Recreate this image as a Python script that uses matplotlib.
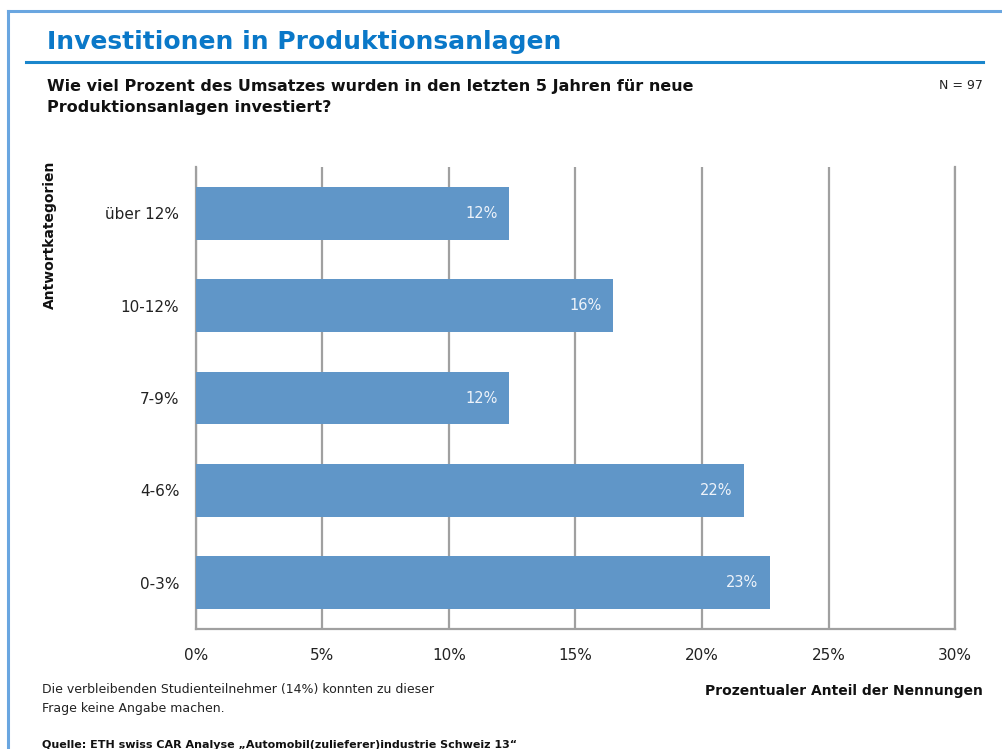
import matplotlib
matplotlib.use("Agg")
import matplotlib.pyplot as plt
from matplotlib.lines import Line2D

# Antworten (N = 97), Anteil der Nennungen in Prozent
categories = ["0-3%", "4-6%", "7-9%", "10-12%", "über 12%"]
shares = [22.68, 21.65, 12.37, 16.49, 12.37]
x_ticks = [0, 5, 10, 15, 20, 25, 30]

BLUE_BAR = "#6096c8"
BLUE_TITLE = "#0a78c8"
GREY = "#a0a0a0"

plt.rcParams["font.family"] = ["DejaVu Sans"]

fig = plt.figure(figsize=(10.02, 7.49), dpi=100)
ax = fig.add_axes([0.1956, 0.1602, 0.7575, 0.6168])

pos = list(range(len(categories)))
bars = ax.barh(pos, shares, height=0.57, color=BLUE_BAR, zorder=3)
for b, v in zip(bars, shares):
    ax.text(b.get_width() - 0.45, b.get_y() + b.get_height() / 2, f"{v:.0f}%",
            ha="right", va="center", color="#eef3fa", fontsize=10.5, zorder=4)

ax.set_xlim(0, 30)
ax.set_ylim(-0.5, 4.5)
ax.set_xticks(x_ticks)
ax.set_xticklabels([f"{t}%" for t in x_ticks])
ax.set_yticks(pos)
ax.set_yticklabels(categories)
ax.tick_params(length=0, labelsize=11, colors="#222222")
ax.tick_params(axis="x", pad=14)
ax.tick_params(axis="y", pad=12)
ax.grid(axis="x", color=GREY, linewidth=1.6, zorder=0)
ax.spines["top"].set_visible(False)
for s in ("left", "right", "bottom"):
    ax.spines[s].set_color(GREY)
    ax.spines[s].set_linewidth(1.6)

# Rahmen und Titellinie
fig.add_artist(Line2D([0.0075, 0.0075], [0, 0.9855], color="#6aa6e0", lw=2.2))
fig.add_artist(Line2D([0.0075, 1.0], [0.9855, 0.9855], color="#6aa6e0", lw=2.2))
fig.add_artist(Line2D([0.026, 0.981], [0.917, 0.917], color="#1a86cc", lw=2.2))

fig.text(0.047, 0.935, "Investitionen in Produktionsanlagen", color=BLUE_TITLE,
         fontsize=18, fontweight="bold", ha="left", va="baseline")
fig.text(0.047, 0.851, "Wie viel Prozent des Umsatzes wurden in den letzten 5 Jahren für neue\n"
         "Produktionsanlagen investiert?", fontsize=11.5, fontweight="bold",
         ha="left", va="baseline", linespacing=1.5, color="#111111")
fig.text(0.981, 0.881, "N = 97", fontsize=9, ha="right", va="baseline", color="#222222")
fig.text(0.050, 0.786, "Antwortkategorien", rotation=90, fontsize=10, fontweight="bold",
         ha="center", va="top", color="#111111")

fig.text(0.981, 0.0715, "Prozentualer Anteil der Nennungen", fontsize=10, fontweight="bold",
         ha="right", va="baseline", color="#111111")
fig.text(0.042, 0.0495, "Die verbleibenden Studienteilnehmer (14%) konnten zu dieser\n"
         "Frage keine Angabe machen.", fontsize=9, ha="left", va="baseline",
         linespacing=1.6, color="#222222")
fig.text(0.042, 0.002, "Quelle: ETH swiss CAR Analyse \u201eAutomobil(zulieferer)industrie Schweiz 13\u201c",
         fontsize=8, fontweight="bold", ha="left", va="baseline", color="#111111")

fig.savefig("out.png", dpi=100)
